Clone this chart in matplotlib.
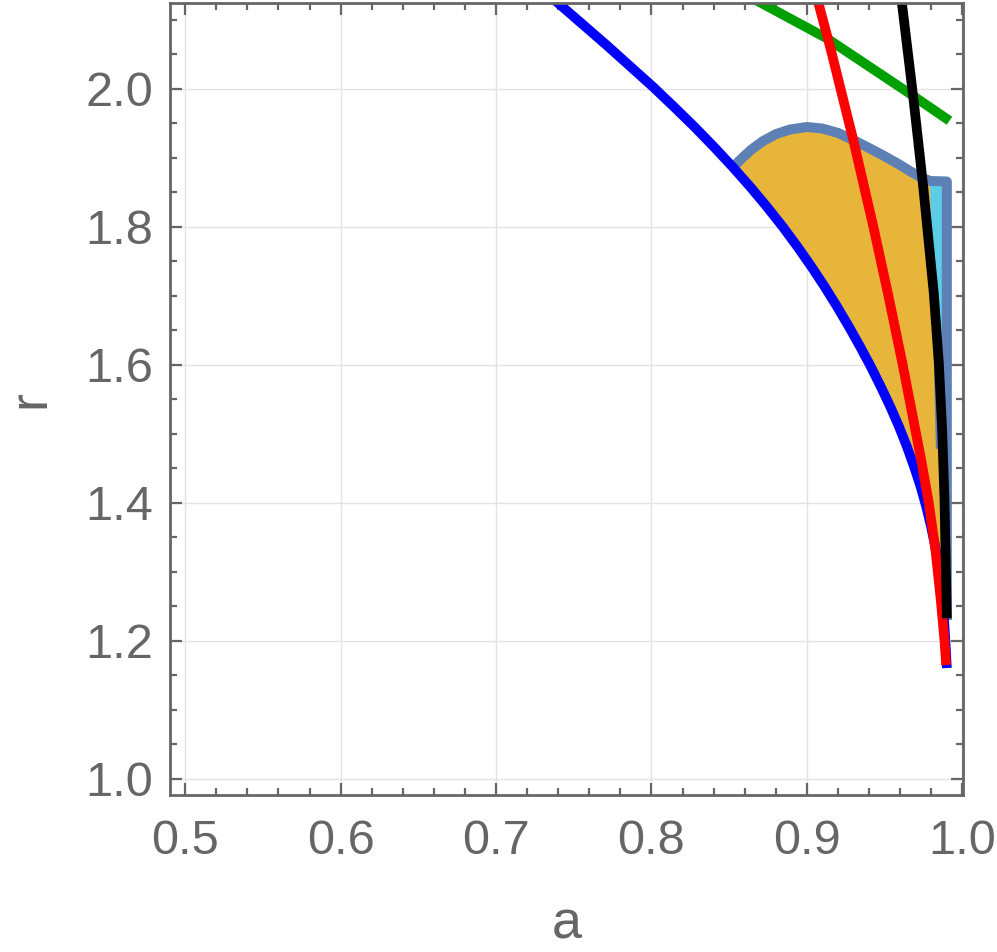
import matplotlib.pyplot as plt
from matplotlib.ticker import MultipleLocator, FormatStrFormatter

plt.rcParams['font.family'] = ['Liberation Sans', 'DejaVu Sans']

# curves (a, r)
blue_a = [0.7316, 0.7399, 0.7710, 0.8011, 0.8146, 0.8278, 0.8403, 0.8523, 0.8637,
          0.8744, 0.8846, 0.8941, 0.9031, 0.9116, 0.9196, 0.9272, 0.9344, 0.9413,
          0.9477, 0.9538, 0.9594, 0.9645, 0.9691, 0.9733, 0.9769, 0.9800, 0.9827,
          0.9848, 0.9865, 0.9877, 0.9886, 0.9894, 0.9901]
blue_r = [2.1401, 2.1242, 2.0634, 2.0025, 1.9735, 1.9445, 1.9155, 1.8865, 1.8575,
          1.8286, 1.7996, 1.7706, 1.7416, 1.7126, 1.6836, 1.6546, 1.6257, 1.5967,
          1.5677, 1.5387, 1.5097, 1.4807, 1.4517, 1.4228, 1.3938, 1.3648, 1.3358,
          1.3068, 1.2778, 1.2488, 1.2199, 1.1909, 1.1604]

red_a = [0.9060, 0.9075, 0.9155, 0.9299, 0.9430, 0.9524, 0.9616, 0.9736, 0.9785,
         0.9830, 0.9862, 0.9886, 0.9897]
red_r = [2.1358, 2.1238, 2.0561, 1.9257, 1.7981, 1.7010, 1.6010, 1.4619, 1.3996,
         1.3271, 1.2590, 1.1996, 1.1648]

black_a = [0.9604, 0.9612, 0.9687, 0.9749, 0.9817, 0.9850, 0.9871, 0.9886, 0.9901]
black_r = [2.1358, 2.1238, 1.9836, 1.8580, 1.7035, 1.6010, 1.5054, 1.4039, 1.2325]

green_a = [0.8635, 0.8710, 0.9129, 0.9644, 0.9918]
green_r = [2.1329, 2.1238, 2.0730, 1.9957, 1.9536]

# upper boundary of the shaded region
top_a = [0.8526, 0.8584, 0.8648, 0.8719, 0.8802, 0.8893, 0.9000, 0.9099, 0.9202,
         0.9311, 0.9407, 0.9504, 0.9601, 0.9684, 0.9742, 0.9794, 0.9901]
top_r = [1.8865, 1.8996, 1.9126, 1.9242, 1.9343, 1.9409, 1.9445, 1.9423, 1.9358,
         1.9242, 1.9133, 1.9017, 1.8894, 1.8778, 1.8706, 1.8662, 1.8655]
edge_a = 0.9901
edge_r_low = 1.23

# small cyan piece on the right
cyan_a = [0.9794, 0.9901, 0.9901, 0.9839]
cyan_r = [1.8655, 1.8655, 1.4800, 1.4800]

gray = '#666666'
outline = '#5E81B5'

fig = plt.figure(figsize=(9.97, 9.52), dpi=100)
ax = fig.add_axes([170 / 997, 1 - 795 / 952, 793 / 997, 792 / 952])

# orange region: top boundary, right edge, back along the blue curve
low_a = [a for a, r in zip(blue_a, blue_r) if r < top_r[0]]
low_r = [r for r in blue_r if r < top_r[0]]
poly_a = top_a + [edge_a, edge_a] + low_a[::-1]
poly_r = top_r + [1.17, 1.16] + low_r[::-1]
ax.fill(poly_a, poly_r, color='#E8B53B', lw=0, zorder=2)
ax.fill(cyan_a, cyan_r, color='#5BCDE6', lw=0, zorder=2)
ax.plot([0.9825, cyan_a[3]], [1.62, cyan_r[3]], color=outline, lw=2, zorder=2.5)
ax.plot(top_a + [edge_a], top_r + [edge_r_low], color=outline, lw=7.2,
        solid_joinstyle='round', solid_capstyle='butt', zorder=3)

lw = 7
ax.plot(blue_a, blue_r, color='#0000FF', lw=lw, solid_capstyle='butt', solid_joinstyle='round', zorder=4)
ax.plot(green_a, green_r, color='#00A000', lw=lw, solid_capstyle='butt', solid_joinstyle='round', zorder=5)
ax.plot(red_a, red_r, color='#FF0000', lw=lw, solid_capstyle='butt', solid_joinstyle='round', zorder=6)
ax.plot(black_a, black_r, color='black', lw=lw, solid_capstyle='butt', solid_joinstyle='round', zorder=7)

ax.set_xlim(0.4902, 1.0005)
ax.set_ylim(0.9764, 2.1242)

ax.xaxis.set_major_locator(MultipleLocator(0.1))
ax.xaxis.set_minor_locator(MultipleLocator(0.02))
ax.yaxis.set_major_locator(MultipleLocator(0.2))
ax.yaxis.set_minor_locator(MultipleLocator(0.05))
ax.xaxis.set_major_formatter(FormatStrFormatter('%.1f'))
ax.yaxis.set_major_formatter(FormatStrFormatter('%.1f'))

ax.grid(True, which='major', color='#E3E3E3', lw=1.0, zorder=0)
ax.set_axisbelow(True)

for s in ax.spines.values():
    s.set_color(gray)
    s.set_linewidth(2)
    s.set_zorder(10)

ax.tick_params(which='both', direction='in', top=True, right=True, color=gray,
               labelcolor=gray, width=1.6, labelsize=35)
ax.tick_params(which='major', length=8.6)
ax.tick_params(which='minor', length=5)
ax.tick_params(axis='x', pad=17)
ax.tick_params(axis='y', pad=12)

ax.set_xlabel('a', fontsize=39, color=gray, labelpad=26)
ax.set_ylabel('r', fontsize=39, color=gray, labelpad=22)

fig.savefig('out.png', dpi=100)
